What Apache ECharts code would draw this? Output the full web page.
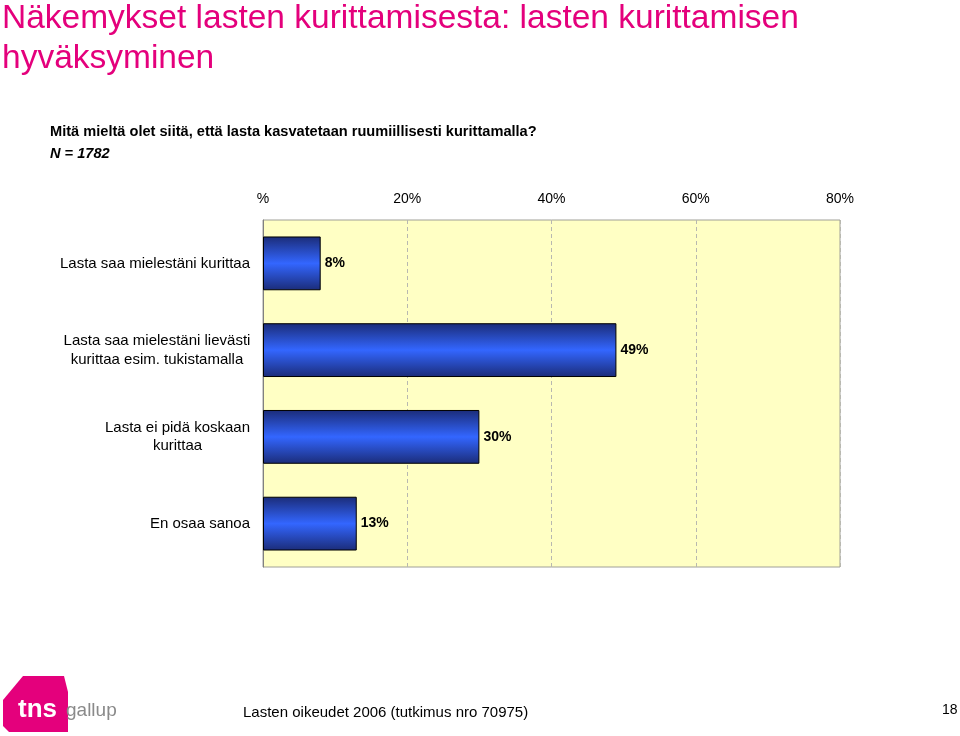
<!DOCTYPE html>
<html><head><meta charset="utf-8">
<script src="https://cdn.jsdelivr.net/npm/echarts@6/dist/echarts.min.js"></script>
<style>html,body{margin:0;padding:0;background:#fff}#c{width:960px;height:736px}</style>
</head><body><div id="c"></div>
<script>
var categories = [
  ['Lasta saa mielestäni kurittaa'],
  ['Lasta saa mielestäni lievästi', 'kurittaa esim. tukistamalla'],
  ['Lasta ei pidä koskaan', 'kurittaa'],
  ['En osaa sanoa']
];
var values = [8, 49, 30, 13];
var tickValues = [0, 20, 40, 60, 80];
var tickLabels = ['%', '20%', '40%', '60%', '80%'];

var F = '"Liberation Sans", Arial, sans-serif';
var chart = echarts.init(document.getElementById('c'));
var rich = {};
var catNames = categories.map(function (lines, i) { return 'c' + i; });
var ctx = document.createElement('canvas').getContext('2d');
ctx.font = '15px ' + F;
categories.forEach(function (lines, i) {
  var w = 0;
  lines.forEach(function (l) { w = Math.max(w, ctx.measureText(l).width); });
  rich['c' + i] = { width: Math.ceil(w) + 1, align: 'center', fontSize: 15, fontFamily: F, color: '#000', lineHeight: 18.5 };
});

chart.setOption({
  animation: false,
  backgroundColor: '#fff',
  title: [
    { text: 'Näkemykset lasten kurittamisesta: lasten kurittamisen\nhyväksyminen', left: 2, top: -1, padding: 0,
      textStyle: { color: '#E4007C', fontSize: 33.5, fontWeight: 'normal', fontFamily: F, lineHeight: 40 } },
    { text: 'Mitä mieltä olet siitä, että lasta kasvatetaan ruumiillisesti kurittamalla?', left: 50, top: 124, padding: 0,
      textStyle: { color: '#000', fontSize: 14.6, fontWeight: 'bold', fontFamily: F } },
    { text: 'N = 1782', left: 50, top: 146, padding: 0,
      textStyle: { color: '#000', fontSize: 14.6, fontWeight: 'bold', fontStyle: 'italic', fontFamily: F } },
    { text: 'Lasten oikeudet 2006 (tutkimus nro 70975)', left: 243, top: 705, padding: 0,
      textStyle: { color: '#000', fontSize: 15, fontWeight: 'normal', fontFamily: F } },
    { text: '18', left: 942, top: 703, padding: 0,
      textStyle: { color: '#000', fontSize: 14, fontWeight: 'normal', fontFamily: F } }
  ],
  graphic: [
    { type: 'polygon', shape: { points: [[3, 700], [23, 676], [64, 676], [68, 692], [68, 732], [9, 732], [3, 726]] },
      style: { fill: '#E4007C' } },
    { type: 'text', left: 18, top: 697, style: { text: 'tns', fill: '#fff', font: 'bold 26px ' + F } },
    { type: 'text', left: 66, top: 701, style: { text: 'gallup', fill: '#8a8a8a', font: '19px ' + F } }
  ],
  grid: { left: 263, right: 120, top: 220, bottom: 169, show: true, backgroundColor: '#FFFFC4', borderColor: '#a0a098', borderWidth: 1 },
  xAxis: {
    type: 'value', position: 'top', min: 0, max: 80, interval: 20,
    axisLine: { show: false }, axisTick: { show: false },
    axisLabel: { fontSize: 14, fontFamily: F, color: '#000', margin: 14,
      formatter: function (v) { var i = tickValues.indexOf(v); return i >= 0 ? tickLabels[i] : ''; } },
    splitLine: { show: true, lineStyle: { color: '#b8b8b0', type: [4, 3], width: 1 } }
  },
  yAxis: {
    type: 'category', inverse: true, data: catNames,
    axisLine: { show: true, lineStyle: { color: '#808080' } }, axisTick: { show: false },
    axisLabel: { margin: 12, rich: rich,
      formatter: function (v) {
        var i = catNames.indexOf(v);
        return categories[i].map(function (l) { return '{' + v + '|' + l + '}'; }).join('\n');
      } }
  },
  series: [{
    type: 'bar', data: values, barCategoryGap: '38%',
    itemStyle: {
      borderColor: '#000', borderWidth: 1,
      color: new echarts.graphic.LinearGradient(0, 0, 0, 1, [
        { offset: 0, color: '#1b2c78' }, { offset: 0.5, color: '#3366ff' }, { offset: 1, color: '#1b2c78' }
      ])
    },
    label: { show: true, position: 'right', distance: 4, formatter: '{c}%', fontSize: 14, fontWeight: 'bold', fontFamily: F, color: '#000' }
  }]
});
</script></body></html>
